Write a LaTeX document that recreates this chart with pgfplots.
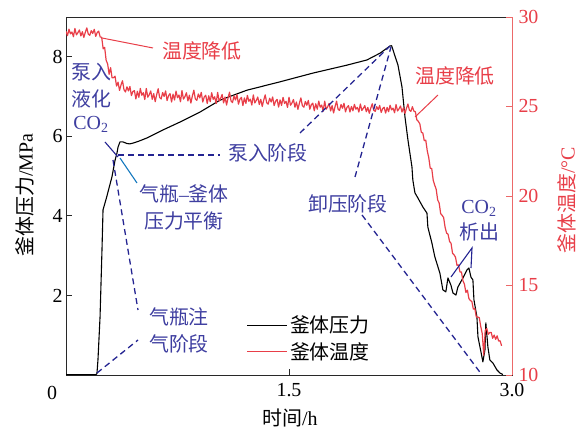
\documentclass[border=0pt]{standalone}
\usepackage{pgfplots}
\pgfplotsset{compat=1.18}
\usepackage{fontspec}
\setmainfont{Liberation Serif}
\newfontfamily\cjk{Noto Sans CJK SC}
\definecolor{tred}{RGB}{232,62,72}
\definecolor{axred}{RGB}{236,105,105}
\definecolor{annblue}{RGB}{62,62,160}
\definecolor{dashblue}{RGB}{35,35,145}
\definecolor{lblue}{RGB}{20,120,190}
\definecolor{axgray}{RGB}{40,40,40}
\begin{document}
\begin{tikzpicture}[font=\fontsize{20}{24}\selectfont]
\useasboundingbox (0,0) rectangle (584bp,434bp);
\begin{axis}[
  at={(66bp,59bp)}, anchor=south west,
  scale only axis, width=446bp, height=358bp,
  xmin=0, xmax=3, ymin=0, ymax=9,
  xtick={0,1.5,3}, xticklabels={,1.5,3.0},
  ytick={2,4,6,8},
  xtick pos=bottom, ytick pos=left,
  tick align=inside, major tick length=6bp,
  axis line style={axgray, line width=0.9bp},
  tick style={axgray, line width=0.9bp},
  /pgf/number format/assume math mode=true,
  ticklabel style={font=\fontsize{20}{24}\selectfont},
  xticklabel style={yshift=-5bp},
  clip=false,
]
\addplot[black, line width=1.1bp, line join=round] coordinates {
(0,0.01) (0.20,0.01) (0.208,0.03) (0.215,0.38) (0.229,1.46) (0.242,3.14) (0.249,4.15)
(0.274,4.48) (0.309,4.98) (0.33,5.40) (0.343,5.58) (0.35,5.73) (0.363,5.86) (0.383,5.86)
(0.41,5.82) (0.43,5.81) (0.46,5.84) (0.484,5.87) (0.545,5.96) (0.652,6.16) (0.767,6.36)
(0.901,6.61) (1.036,6.91) (1.217,7.16) (1.439,7.37) (1.661,7.59) (1.890,7.79) (2.024,7.92)
(2.112,8.09) (2.179,8.27) (2.190,8.28) (2.233,7.79) (2.260,7.24) (2.280,6.49) (2.300,5.91)
(2.327,5.23) (2.333,4.90) (2.347,4.58) (2.367,4.45) (2.401,4.22) (2.428,4.07) (2.434,3.72)
(2.461,3.32) (2.481,2.97) (2.515,2.56) (2.535,2.14) (2.555,2.09) (2.569,2.44) (2.589,2.26)
(2.603,2.06) (2.623,2.01) (2.636,2.21) (2.670,2.44) (2.697,2.64) (2.710,2.69) (2.724,2.46)
(2.737,2.39) (2.744,1.89) (2.764,1.46) (2.771,0.96) (2.798,0.45) (2.804,0.33) (2.818,0.63)
(2.824,1.31) (2.838,0.70) (2.851,0.38) (2.872,0.30) (2.898,0.13) (2.919,0.05) (2.939,0.01)
};
\end{axis}
\begin{axis}[
  at={(66bp,59bp)}, anchor=south west,
  scale only axis, width=446bp, height=358bp,
  xmin=0, xmax=3, ymin=10, ymax=30,
  axis x line=none, axis y line*=right,
  ytick={10,15,20,25,30},
  tick align=inside, major tick length=6bp,
  y axis line style={axred, line width=0.9bp, -},
  ytick style={axred, line width=0.9bp},
  yticklabel style={tred, font=\fontsize{20}{24}\selectfont, xshift=3bp},
  /pgf/number format/assume math mode=true,
  legend style={draw=none, fill=none, at={(0.405,0.171)}, anchor=north west,
    font=\fontsize{20}{24}\selectfont, row sep=4bp, inner sep=0pt,
    nodes={inner sep=2bp}},
  legend cell align=left,
  legend image code/.code={\draw[#1] (0bp,0bp) -- (40bp,0bp);},
]
\addlegendimage{black, line width=1bp}
\addlegendentry{\cjk 釜体压力}
\addplot[tred, line width=1.2bp, line join=round] table {
0.00 29.20
0.01 28.96
0.02 29.32
0.03 29.06
0.04 29.16
0.05 28.90
0.06 29.36
0.07 29.00
0.08 29.12
0.09 29.28
0.10 28.94
0.11 29.18
0.12 28.86
0.13 29.15
0.14 29.39
0.15 29.04
0.16 28.98
0.17 29.24
0.18 29.08
0.19 29.31
0.20 28.92
0.21 29.13
0.22 29.21
0.23 28.88
0.24 28.87
0.25 28.22
0.26 28.30
0.27 27.58
0.28 27.38
0.29 26.80
0.30 27.17
0.31 26.60
0.32 26.61
0.33 26.69
0.34 26.14
0.35 26.36
0.36 25.90
0.37 26.20
0.38 26.44
0.39 25.94
0.40 25.81
0.41 26.10
0.42 25.87
0.43 26.12
0.44 25.61
0.45 25.84
0.46 25.89
0.47 25.42
0.48 25.85
0.49 25.51
0.50 26.01
0.51 25.63
0.52 25.77
0.53 25.39
0.54 26.01
0.55 25.52
0.56 25.66
0.57 25.87
0.58 25.40
0.59 25.72
0.60 25.27
0.61 25.67
0.62 25.99
0.63 25.50
0.64 25.42
0.65 25.78
0.66 25.56
0.67 25.87
0.68 25.33
0.69 25.61
0.70 25.72
0.71 25.25
0.72 25.69
0.73 25.36
0.74 25.86
0.75 25.49
0.76 25.64
0.77 25.26
0.78 25.89
0.79 25.41
0.80 25.55
0.81 25.77
0.82 25.31
0.83 25.63
0.84 25.19
0.85 25.59
0.86 25.91
0.87 25.42
0.88 25.34
0.89 25.70
0.90 25.48
0.91 25.79
0.92 25.25
0.93 25.53
0.94 25.63
0.95 25.17
0.96 25.60
0.97 25.27
0.98 25.77
0.99 25.40
1.00 25.54
1.01 25.17
1.02 25.79
1.03 25.31
1.04 25.45
1.05 25.67
1.06 25.20
1.07 25.53
1.08 25.08
1.09 25.48
1.10 25.80
1.11 25.31
1.12 25.22
1.13 25.59
1.14 25.36
1.15 25.67
1.16 25.13
1.17 25.41
1.18 25.51
1.19 25.05
1.20 25.48
1.21 25.17
1.22 25.62
1.23 25.29
1.24 25.41
1.25 25.08
1.26 25.65
1.27 25.20
1.28 25.34
1.29 25.53
1.30 25.11
1.31 25.40
1.32 25.00
1.33 25.36
1.34 25.65
1.35 25.21
1.36 25.13
1.37 25.46
1.38 25.25
1.39 25.53
1.40 25.05
1.41 25.30
1.42 25.40
1.43 24.97
1.44 25.37
1.45 25.06
1.46 25.51
1.47 25.17
1.48 25.29
1.49 24.95
1.50 25.52
1.51 25.07
1.52 25.20
1.53 25.39
1.54 24.96
1.55 25.25
1.56 24.84
1.57 25.19
1.58 25.48
1.59 25.04
1.60 24.96
1.61 25.28
1.62 25.07
1.63 25.34
1.64 24.85
1.65 25.10
1.66 25.19
1.67 24.76
1.68 25.15
1.69 24.85
1.70 25.30
1.71 24.96
1.72 25.08
1.73 24.74
1.74 25.30
1.75 24.85
1.76 24.98
1.77 25.17
1.78 24.75
1.79 25.05
1.80 24.64
1.81 25.00
1.82 25.30
1.83 24.85
1.84 24.78
1.85 25.11
1.86 24.90
1.87 25.18
1.88 24.70
1.89 24.95
1.90 25.05
1.91 24.69
1.92 25.00
1.93 24.76
1.94 25.12
1.95 24.85
1.96 24.95
1.97 24.69
1.98 25.14
1.99 24.78
2.00 24.90
2.01 25.05
2.02 24.71
2.03 24.95
2.04 24.62
2.05 24.91
2.06 25.15
2.07 24.79
2.08 24.73
2.09 24.99
2.10 24.83
2.11 25.06
2.12 24.67
2.13 24.88
2.14 24.96
2.15 24.63
2.16 24.95
2.17 24.71
2.18 25.07
2.19 24.81
2.20 24.91
2.21 24.65
2.22 25.11
2.23 24.75
2.24 24.87
2.25 25.03
2.26 24.69
2.27 24.93
2.28 24.61
2.29 24.90
2.30 25.14
2.31 24.79
2.32 24.73
2.33 24.99
2.34 24.74
2.35 24.71
2.36 24.25
2.37 24.17
2.38 24.03
2.39 23.56
2.40 23.52
2.41 23.09
2.42 23.12
2.43 22.52
2.44 22.15
2.45 21.55
2.46 21.54
2.47 20.88
2.48 20.61
2.49 20.38
2.50 19.78
2.51 19.61
2.52 19.02
2.53 18.92
2.54 18.80
2.55 18.25
2.56 17.93
2.57 17.86
2.58 17.46
2.59 17.36
2.60 16.80
2.61 16.72
2.62 16.58
2.63 16.13
2.64 16.15
2.65 15.76
2.66 15.75
2.67 15.27
2.68 15.07
2.69 14.61
2.70 14.74
2.71 14.27
2.72 14.16
2.73 14.11
2.74 13.68
2.75 13.71
2.76 13.24
2.77 13.24
2.78 13.20
2.79 12.70
2.80 12.31
2.81 11.10
2.82 12.49
2.83 12.61
2.84 12.27
2.85 12.37
2.86 12.38
2.87 12.05
2.88 12.23
2.89 11.99
2.90 12.19
2.91 11.90
2.92 11.91
2.93 11.63
};
\addlegendentry{\cjk 釜体温度}
\end{axis}
\begin{scope}[x=1bp, y=-1bp, shift={(0bp,434bp)}, every node/.style={inner sep=0pt}]
  % axis texts
  \node at (52,393) {0};
  \node at (290,418) {{\cjk 时间}/h};
  \node[rotate=90] at (25,195) {{\cjk 釜体压力}/MPa};
  \node[rotate=90, tred] at (567,200) {{\cjk 釜体温度}/°C};
  % red annotations
  \node[tred] at (202,51) {\cjk 温度降低};
  \draw[tred, line width=1bp] (102,38) -- (153,48);
  \node[tred] at (455,76) {\cjk 温度降低};
  \draw[tred, line width=1bp] (438,95) -- (415,117);
  % blue annotations
  \node[annblue] at (91,72) {\cjk 泵入};
  \node[annblue] at (91,99) {\cjk 液化};
  \node[annblue] at (91,124) {CO\textsubscript{2}};
  \draw[dashblue, line width=1.1bp] (105,142) -- (118,157);
  \node[annblue] at (184,194) {{\cjk 气瓶}–{\cjk 釜体}};
  \node[annblue] at (184,221) {\cjk 压力平衡};
  \draw[lblue, line width=1.1bp] (120,158) -- (137,183);
  \node[annblue] at (268,153) {\cjk 泵入阶段};
  \node[annblue] at (348,204) {\cjk 卸压阶段};
  \node[annblue] at (479,208) {CO\textsubscript{2}};
  \node[annblue] at (479,232) {\cjk 析出};
  \draw[dashblue, line width=1.1bp] (451,277) -- (472,248) -- (471,268);
  \node[annblue] at (179,317) {\cjk 气瓶注};
  \node[annblue] at (179,344) {\cjk 气阶段};
  \begin{scope}[dashblue, line width=1.3bp, dash pattern=on 6bp off 4bp]
    \draw (118,155) -- (220,155);
    \draw (300,133) -- (390,46);
    \draw (355,177) -- (391,47);
    \draw (362,215) -- (482,375);
    \draw (113,160) -- (138,310);
    \draw (97,373) -- (138,340);
  \end{scope}
\end{scope}
\end{tikzpicture}
\end{document}
